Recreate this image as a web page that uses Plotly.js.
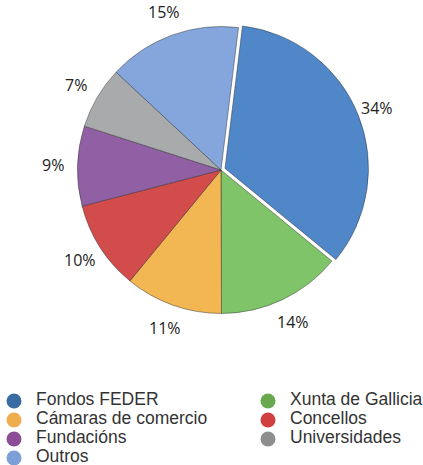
<!DOCTYPE html>
<html>
<head>
<meta charset="utf-8">
<script src="https://cdn.plot.ly/plotly-3.0.1.min.js"></script>
<style>html,body{margin:0;padding:0;background:#fff;}#chart{width:423px;height:465px;}</style>
</head>
<body>
<div id="chart"></div>
<script>
const categories = ["Fondos FEDER", "Xunta de Gallicia", "Cámaras de comercio", "Concellos", "Fundacións", "Universidades", "Outros"];
const shares = [34, 14, 11, 10, 9, 7, 15];
const sliceColors = ["#4f87c9", "#80c46a", "#f2b653", "#d34c4c", "#9160a4", "#a8aaac", "#84a6dc"];
const legendColors = ["#3b6ba3", "#6aa84f", "#f0ad4e", "#d04040", "#8a4d96", "#8e8e8e", "#7b9fd6"];
const pulls = [0.03, 0, 0, 0, 0, 0, 0];

const W = 423, H = 465;
const cx = 221, cy = 170, R = 143.5, ROT = 7;
const half = R * (1 + Math.max(...pulls));

const pie = {
  type: "pie",
  labels: categories,
  values: shares,
  sort: false,
  direction: "clockwise",
  rotation: ROT,
  pull: pulls,
  domain: {x: [(cx - half) / W, (cx + half) / W], y: [1 - (cy + half) / H, 1 - (cy - half) / H]},
  marker: {colors: sliceColors, line: {color: "rgba(40,40,40,0.45)", width: 1}},
  textinfo: "none",
  showlegend: false,
  hoverinfo: "none"
};

// percentage labels placed around the pie from the slice angles
const total = shares.reduce((a, b) => a + b, 0);
let cum = 0;
const labelAnns = shares.map(v => {
  const mid = ROT + (cum + v / 2) / total * 360;
  cum += v;
  const a = mid * Math.PI / 180;
  const rl = R * 1.17;
  return {
    xref: "x2", yref: "y2",
    x: cx + rl * Math.sin(a), y: cy - rl * Math.cos(a),
    text: v + "%", showarrow: false,
    font: {family: "Open Sans", size: 16, color: "#222"},
    xanchor: "center", yanchor: "middle"
  };
});

// legend drawn as two columns of circles and names
const colX = [14, 268], rowY0 = 401, rowGap = 19, textGap = 22;
const legendMarkers = {
  type: "scatter", mode: "markers", xaxis: "x2", yaxis: "y2",
  x: categories.map((c, i) => colX[i % 2]),
  y: categories.map((c, i) => rowY0 + rowGap * Math.floor(i / 2)),
  marker: {color: legendColors, size: 15, symbol: "circle"},
  showlegend: false, hoverinfo: "none", cliponaxis: false
};
const legendText = {
  type: "scatter", mode: "text", xaxis: "x2", yaxis: "y2",
  x: categories.map((c, i) => colX[i % 2] + textGap),
  y: categories.map((c, i) => rowY0 + rowGap * Math.floor(i / 2)),
  text: categories, textposition: "middle right",
  textfont: {family: "Liberation Sans", size: 17.5, color: "#333"},
  showlegend: false, hoverinfo: "none", cliponaxis: false
};

const layout = {
  width: W, height: H,
  margin: {l: 0, r: 0, t: 0, b: 0},
  paper_bgcolor: "#fff", plot_bgcolor: "rgba(0,0,0,0)",
  xaxis2: {visible: false, range: [0, W], domain: [0, 1], anchor: "y2", fixedrange: true},
  yaxis2: {visible: false, range: [H, 0], domain: [0, 1], anchor: "x2", fixedrange: true},
  showlegend: false,
  annotations: labelAnns
};

Plotly.newPlot("chart", [pie, legendMarkers, legendText], layout, {staticPlot: true});
</script>
</body>
</html>
